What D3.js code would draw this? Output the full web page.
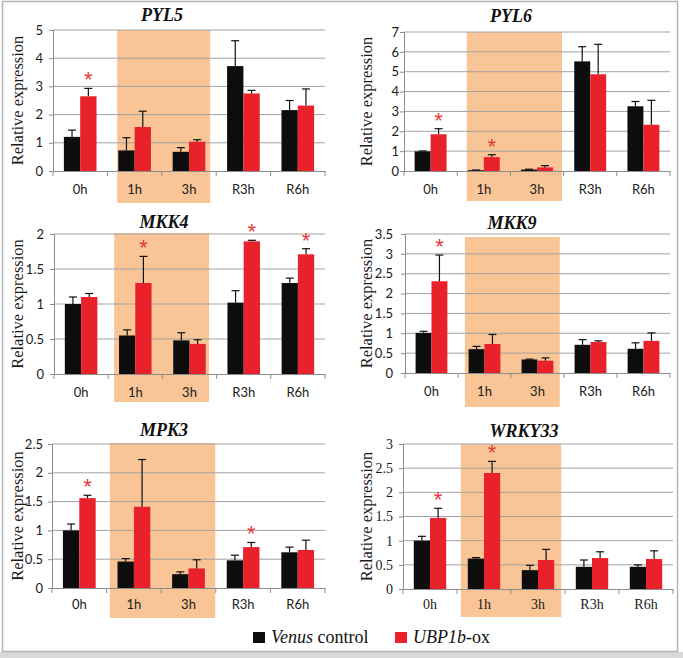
<!DOCTYPE html>
<html><head><meta charset="utf-8">
<script src="https://cdn.jsdelivr.net/npm/d3@7"></script>
<style>body{margin:0;background:#fff}</style></head>
<body>
<svg id="c" width="683" height="658"></svg>
<script>
// ---------- DATA ----------
const categories = ["0h", "1h", "3h", "R3h", "R6h"];
const seriesNames = ["Venus control", "UBP1b-ox"];
const genes = ["PYL5", "PYL6", "MKK4", "MKK9", "MPK3", "WRKY33"];

const pyl5Venus = [1.21, 0.73, 0.68, 3.72, 2.16];
const pyl5VenusErr = [0.24, 0.45, 0.15, 0.90, 0.34];
const pyl5Ubp = [2.65, 1.56, 1.04, 2.75, 2.32];
const pyl5UbpErr = [0.28, 0.56, 0.07, 0.11, 0.59];
const pyl5Stars = ["0h"];
const pyl5Ticks = [0, 1, 2, 3, 4, 5];

const pyl6Venus = [0.99, 0.04, 0.07, 5.52, 3.26];
const pyl6VenusErr = [0.02, 0.01, 0.02, 0.74, 0.24];
const pyl6Ubp = [1.85, 0.70, 0.18, 4.87, 2.33];
const pyl6UbpErr = [0.28, 0.12, 0.09, 1.51, 1.23];
const pyl6Stars = ["0h", "1h"];
const pyl6Ticks = [0, 1, 2, 3, 4, 5, 6, 7];

const mkk4Venus = [1.00, 0.55, 0.48, 1.02, 1.30];
const mkk4VenusErr = [0.10, 0.08, 0.11, 0.17, 0.07];
const mkk4Ubp = [1.10, 1.30, 0.43, 1.895, 1.71];
const mkk4UbpErr = [0.05, 0.38, 0.06, 0.015, 0.08];
const mkk4Stars = ["1h", "R3h", "R6h"];
const mkk4Ticks = [0, 0.5, 1, 1.5, 2];

const mkk9Venus = [1.01, 0.60, 0.34, 0.71, 0.61];
const mkk9VenusErr = [0.04, 0.07, 0.01, 0.13, 0.15];
const mkk9Ubp = [2.31, 0.73, 0.31, 0.78, 0.81];
const mkk9UbpErr = [0.66, 0.24, 0.07, 0.03, 0.20];
const mkk9Stars = ["0h"];
const mkk9Ticks = [0, 0.5, 1, 1.5, 2, 2.5, 3, 3.5];

const mpk3Venus = [1.00, 0.46, 0.24, 0.48, 0.62];
const mpk3VenusErr = [0.11, 0.05, 0.04, 0.09, 0.09];
const mpk3Ubp = [1.56, 1.41, 0.34, 0.71, 0.66];
const mpk3UbpErr = [0.05, 0.82, 0.15, 0.08, 0.17];
const mpk3Stars = ["0h", "R3h"];
const mpk3Ticks = [0, 0.5, 1, 1.5, 2, 2.5];

const wrky33Venus = [1.00, 0.63, 0.39, 0.46, 0.46];
const wrky33VenusErr = [0.09, 0.02, 0.10, 0.14, 0.04];
const wrky33Ubp = [1.47, 2.40, 0.60, 0.64, 0.62];
const wrky33UbpErr = [0.20, 0.24, 0.22, 0.13, 0.17];
const wrky33Stars = ["0h", "1h"];
const wrky33Ticks = [0, 0.5, 1, 1.5, 2, 2.5, 3];

const shadedCategories = ["1h", "3h"];

// ---------- BUILD TABLE ----------
const geneData = [
  {venus: pyl5Venus, venusErr: pyl5VenusErr, ubp: pyl5Ubp, ubpErr: pyl5UbpErr, stars: pyl5Stars, ticks: pyl5Ticks},
  {venus: pyl6Venus, venusErr: pyl6VenusErr, ubp: pyl6Ubp, ubpErr: pyl6UbpErr, stars: pyl6Stars, ticks: pyl6Ticks},
  {venus: mkk4Venus, venusErr: mkk4VenusErr, ubp: mkk4Ubp, ubpErr: mkk4UbpErr, stars: mkk4Stars, ticks: mkk4Ticks},
  {venus: mkk9Venus, venusErr: mkk9VenusErr, ubp: mkk9Ubp, ubpErr: mkk9UbpErr, stars: mkk9Stars, ticks: mkk9Ticks},
  {venus: mpk3Venus, venusErr: mpk3VenusErr, ubp: mpk3Ubp, ubpErr: mpk3UbpErr, stars: mpk3Stars, ticks: mpk3Ticks},
  {venus: wrky33Venus, venusErr: wrky33VenusErr, ubp: wrky33Ubp, ubpErr: wrky33UbpErr, stars: wrky33Stars, ticks: wrky33Ticks}
].map((d, i) => Object.assign({name: genes[i]}, d));

// ---------- LAYOUT ----------
const layout = [
  {x0:53, x1:325, yTop:30, yBot:171, titleX:162, titleY:21, ylabX:17, tickGap:10, labDy:24, sA:0.18, sB:0.89, sTop:0, sBot:32, serif:false},
  {x0:404, x1:670, yTop:32, yBot:171, titleX:511, titleY:22, ylabX:366, tickGap:5, labDy:24, sA:0.18, sB:0.97, sTop:0, sBot:30, serif:false},
  {x0:54, x1:325, yTop:234, yBot:374, titleX:164, titleY:228, ylabX:17, tickGap:10, labDy:24, sA:0.11, sB:0.86, sTop:-1, sBot:28, serif:false},
  {x0:405, x1:670, yTop:234, yBot:373, titleX:512, titleY:229, ylabX:366, tickGap:12, labDy:24, sA:0.13, sB:0.92, sTop:3, sBot:34, serif:false},
  {x0:52, x1:325, yTop:444, yBot:588, titleX:164, titleY:436, ylabX:17, tickGap:9, labDy:22, sA:0.06, sB:0.99, sTop:-1, sBot:30, serif:false},
  {x0:403, x1:673, yTop:444, yBot:589, titleX:524, titleY:437, ylabX:366, tickGap:10, labDy:20, sA:0.07, sB:0.93, sTop:0, sBot:28, serif:true}
];

const colors = {venus: "#0d0d0d", ubp: "#e8212a"};
const sansFont = "Lato, 'Open Sans', sans-serif";
const serifFont = "'Liberation Serif', 'DejaVu Serif', serif";
const starFont = "'Liberation Sans', Arial, sans-serif";

const svg = d3.select("#c");
svg.append("rect").attr("x",0).attr("y",0).attr("width",683).attr("height",658).attr("fill","#fff");
svg.append("rect").attr("x",0).attr("y",652).attr("width",683).attr("height",6).attr("fill","#d9d9d9");
svg.append("rect").attr("x",2.5).attr("y",1.5).attr("width",675).attr("height",650)
  .attr("fill","none").attr("stroke","#b5b5b5").attr("stroke-width",1.5);

geneData.forEach((g, i) => {
  const L = layout[i];
  const tickFont = L.serif ? serifFont : sansFont;
  const tickSize = L.serif ? 14 : 13;
  const x = d3.scaleBand().domain(categories).range([L.x0, L.x1]).padding(0);
  const bw = x.bandwidth();
  const inner = d3.scaleBand().domain(["venus", "ubp"]).range([bw * 0.2, bw * 0.8]).padding(0);
  const y = d3.scaleLinear().domain([0, d3.max(g.ticks)]).range([L.yBot, L.yTop]);
  const panel = svg.append("g");

  // shaded stress period
  const sx0 = x(shadedCategories[0]) + L.sA * bw;
  const sx1 = x(shadedCategories[shadedCategories.length - 1]) + L.sB * bw;
  panel.append("rect")
    .attr("x", sx0).attr("y", L.yTop + L.sTop)
    .attr("width", sx1 - sx0).attr("height", L.yBot + L.sBot - L.yTop - L.sTop)
    .attr("fill", "#f9c596");

  // gridlines
  panel.append("g").selectAll("line").data(g.ticks.filter(t => t > 0)).join("line")
    .attr("x1", L.x0).attr("x2", L.x1)
    .attr("y1", d => y(d)).attr("y2", d => y(d))
    .attr("stroke", "#a3a3a3").attr("stroke-width", 1);

  // y axis
  const yAxis = panel.append("g").attr("transform", `translate(${L.x0},0)`)
    .call(d3.axisLeft(y).tickValues(g.ticks).tickSize(4).tickPadding(L.tickGap - 4)
      .tickFormat(d => String(d)));
  yAxis.select(".domain").attr("stroke", "#8c8c8c");
  yAxis.selectAll(".tick line").attr("stroke", "#8c8c8c");
  yAxis.selectAll(".tick text").attr("font-family", tickFont).attr("font-size", tickSize).attr("fill", "#1a1a1a");

  // x axis
  const xAxis = panel.append("g").attr("transform", `translate(0,${L.yBot})`)
    .call(d3.axisBottom(x).tickSize(0).tickPadding(L.labDy - 10));
  xAxis.select(".domain").attr("stroke", "#8c8c8c");
  xAxis.selectAll(".tick text").attr("font-family", tickFont).attr("font-size", tickSize).attr("fill", "#1a1a1a");
  const bounds = categories.map(c => x(c)).concat([x(categories[categories.length - 1]) + bw]);
  panel.append("g").selectAll("line").data(bounds).join("line")
    .attr("x1", d => d).attr("x2", d => d)
    .attr("y1", L.yBot).attr("y2", L.yBot + 5)
    .attr("stroke", "#8c8c8c");

  // bars
  const rows = categories.map((c, k) => ({
    cat: c,
    items: [
      {key: "venus", v: g.venus[k], e: g.venusErr[k]},
      {key: "ubp", v: g.ubp[k], e: g.ubpErr[k]}
    ]
  }));
  const grp = panel.append("g").selectAll("g").data(rows).join("g")
    .attr("transform", d => `translate(${x(d.cat)},0)`);
  grp.selectAll("rect").data(d => d.items).join("rect")
    .attr("x", d => inner(d.key)).attr("width", inner.bandwidth())
    .attr("y", d => y(d.v)).attr("height", d => y(0) - y(d.v))
    .attr("fill", d => colors[d.key]);
  // error bars
  const eb = grp.selectAll("g.eb").data(d => d.items).join("g").attr("class", "eb");
  eb.append("line")
    .attr("x1", d => inner(d.key) + inner.bandwidth() / 2)
    .attr("x2", d => inner(d.key) + inner.bandwidth() / 2)
    .attr("y1", d => y(d.v)).attr("y2", d => y(d.v + d.e))
    .attr("stroke", "#111").attr("stroke-width", 1.2);
  eb.append("line")
    .attr("x1", d => inner(d.key) + inner.bandwidth() / 2 - 4)
    .attr("x2", d => inner(d.key) + inner.bandwidth() / 2 + 4)
    .attr("y1", d => y(d.v + d.e)).attr("y2", d => y(d.v + d.e))
    .attr("stroke", "#111").attr("stroke-width", 1.2);

  // significance stars
  panel.append("g").selectAll("text").data(g.stars).join("text")
    .attr("x", c => x(c) + inner("ubp") + inner.bandwidth() / 2)
    .attr("y", c => { const k = categories.indexOf(c); return y(g.ubp[k] + g.ubpErr[k]) - 1; })
    .attr("text-anchor", "middle")
    .attr("font-family", starFont).attr("font-size", 22).attr("fill", "#e5383b")
    .text("*");

  // title
  panel.append("text").attr("x", L.titleX).attr("y", L.titleY)
    .attr("text-anchor", "middle").attr("font-family", serifFont)
    .attr("font-weight", "bold").attr("font-style", "italic").attr("font-size", 18)
    .attr("fill", "#111").text(g.name);

  // y label
  panel.append("text")
    .attr("transform", `translate(${L.ylabX},${(L.yTop + L.yBot) / 2}) rotate(-90)`)
    .attr("text-anchor", "middle").attr("dy", "0.35em")
    .attr("font-family", serifFont).attr("font-size", 16.5).attr("fill", "#1a1a1a")
    .text("Relative expression");
});

// legend
const legend = svg.append("g");
const legItems = [
  {key: "venus", x: 253, parts: [["Venus", true], [" control", false]]},
  {key: "ubp", x: 395, parts: [["UBP1b", true], ["-ox", false]]}
];
legItems.forEach((it, i) => {
  legend.append("rect").attr("x", it.x).attr("y", 632).attr("width", 12).attr("height", 11)
    .attr("fill", colors[it.key]);
  const t = legend.append("text").attr("x", it.x + 18).attr("y", 643)
    .attr("font-family", serifFont).attr("font-size", 18).attr("fill", "#111");
  it.parts.forEach(p => t.append("tspan").attr("font-style", p[1] ? "italic" : "normal").text(p[0]));
});
</script>
</body></html>
